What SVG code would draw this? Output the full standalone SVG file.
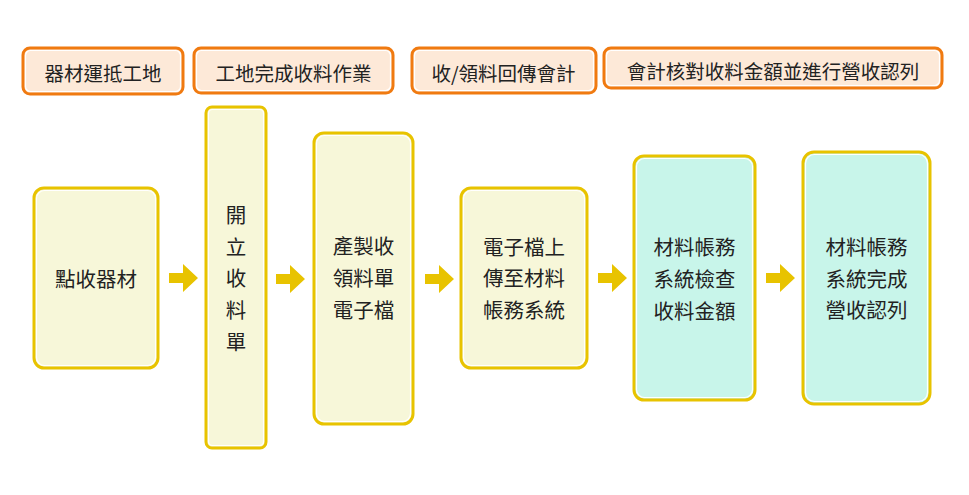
<svg xmlns="http://www.w3.org/2000/svg" width="969" height="495" viewBox="0 0 969 495">
<style>
.bg{fill:#ffffff}
.stage rect.o{fill:#fde9d8;stroke:#f07a10;stroke-width:3}
.stage rect.i{fill:none;stroke:#ffffff;stroke-width:1.2}
.node rect.o{stroke:#e8c300;stroke-width:3}
.node rect.i{fill:none;stroke:#ffffff;stroke-width:1.2}
.y{fill:#f7f7d9}
.t{fill:#c8f5ea}
text{font-family:"Noto Sans CJK TC","Noto Sans CJK SC",sans-serif;fill:#222222;text-anchor:middle;dominant-baseline:central}
.lab{font-size:19.5px}
.nt{font-size:20.5px}
.arrow{fill:#e8c300}
</style>
<defs>
<path id="arr" d="M0,-5 H14 V-14 L29,0 L14,14 V5 H0 Z"/>
</defs>
<rect class="bg" width="969" height="495"/>

<g id="stage1" class="stage"><rect class="o" x="23" y="48" width="160" height="46" rx="7"/><rect class="i" x="25.5" y="50.5" width="155" height="41" rx="5"/><text class="lab" x="103" y="72">器材運抵工地</text></g>
<g id="stage2" class="stage"><rect class="o" x="194" y="48" width="199" height="45" rx="7"/><rect class="i" x="196.5" y="50.5" width="194" height="40" rx="5"/><text class="lab" x="293.5" y="72">工地完成收料作業</text></g>
<g id="stage3" class="stage"><rect class="o" x="412" y="48" width="184" height="45" rx="7"/><rect class="i" x="414.5" y="50.5" width="179" height="40" rx="5"/><text class="lab" x="503.5" y="72">收/領料回傳會計</text></g>
<g id="stage4" class="stage"><rect class="o" x="604" y="48" width="338" height="40" rx="7"/><rect class="i" x="606.5" y="50.5" width="333" height="35" rx="5"/><text class="lab" x="773" y="70">會計核對收料金額並進行營收認列</text></g>

<g id="connectors">
<use href="#arr" class="arrow" x="169" y="278"/>
<use href="#arr" class="arrow" x="276" y="279"/>
<use href="#arr" class="arrow" x="425" y="279"/>
<use href="#arr" class="arrow" x="598" y="278"/>
<use href="#arr" class="arrow" x="766" y="278"/>
</g>

<g id="n1" class="node"><rect class="o y" x="34" y="188" width="124" height="180" rx="10"/><rect class="i" x="36.5" y="190.5" width="119" height="175" rx="8"/><text class="nt" x="96" y="278">點收器材</text></g>
<g id="n2" class="node"><rect class="o y" x="206" y="107" width="60" height="341" rx="6"/><rect class="i" x="208.5" y="109.5" width="55" height="336" rx="4"/>
<text class="nt" x="236" y="214">開</text><text class="nt" x="236" y="246">立</text><text class="nt" x="236" y="277">收</text><text class="nt" x="236" y="309">料</text><text class="nt" x="236" y="341">單</text></g>
<g id="n3" class="node"><rect class="o y" x="314" y="133" width="99" height="291" rx="10"/><rect class="i" x="316.5" y="135.5" width="94" height="286" rx="8"/>
<text class="nt" x="363.5" y="245">產製收</text><text class="nt" x="363.5" y="277">領料單</text><text class="nt" x="363.5" y="309">電子檔</text></g>
<g id="n4" class="node"><rect class="o y" x="461" y="188" width="126" height="180" rx="10"/><rect class="i" x="463.5" y="190.5" width="121" height="175" rx="8"/>
<text class="nt" x="524" y="246">電子檔上</text><text class="nt" x="524" y="277">傳至材料</text><text class="nt" x="524" y="309">帳務系統</text></g>
<g id="n5" class="node"><rect class="o t" x="634" y="156" width="121" height="244" rx="10"/><rect class="i" x="636.5" y="158.5" width="116" height="239" rx="8"/>
<text class="nt" x="694.5" y="246">材料帳務</text><text class="nt" x="694.5" y="278">系統檢查</text><text class="nt" x="694.5" y="310">收料金額</text></g>
<g id="n6" class="node"><rect class="o t" x="803" y="152" width="127" height="252" rx="11"/><rect class="i" x="805.5" y="154.5" width="122" height="247" rx="9"/>
<text class="nt" x="866.5" y="246">材料帳務</text><text class="nt" x="866.5" y="278">系統完成</text><text class="nt" x="866.5" y="309">營收認列</text></g>
</svg>
